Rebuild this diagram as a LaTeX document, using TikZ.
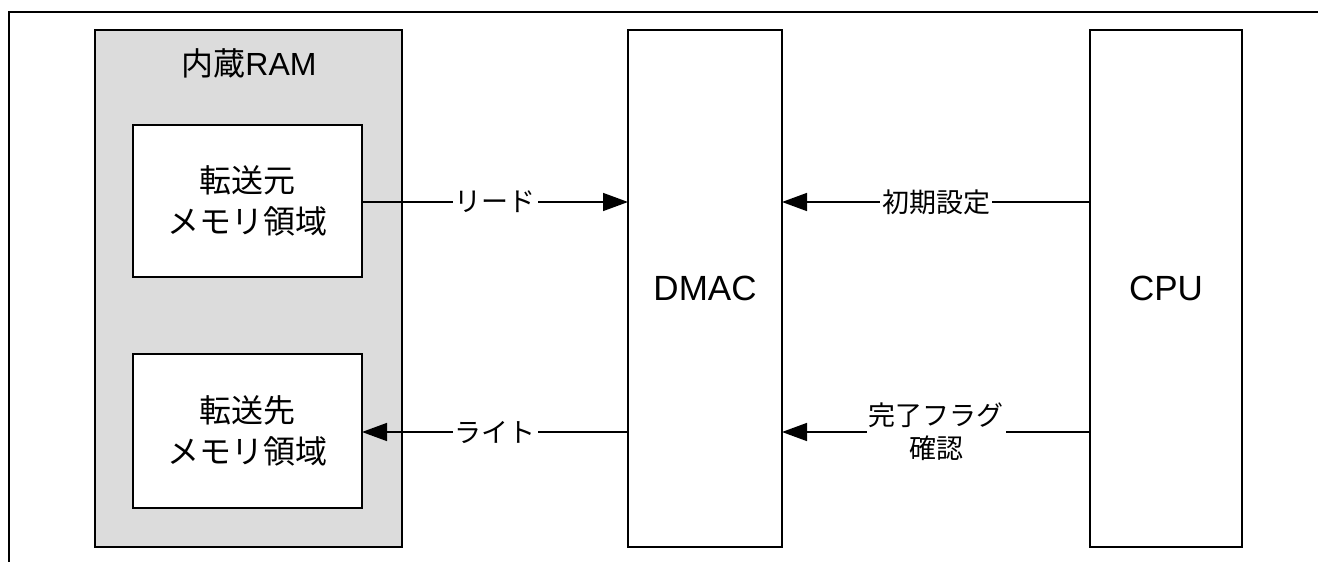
\documentclass[tikz,border=0pt]{standalone}
\usepackage{fontspec}
\setmainfont{Liberation Sans}
\newfontfamily\cjk{Noto Sans CJK JP}
\usetikzlibrary{arrows.meta}
\begin{document}
\begin{tikzpicture}[x=1pt,y=-1pt,
  box/.style={draw=black,line width=1.5pt,inner sep=0pt,fill=white},
  boxtext/.style={font=\fontsize{32}{41}\selectfont,align=center},
  bigtext/.style={font=\fontsize{35}{41}\selectfont,align=center},
  lbl/.style={fill=white,inner sep=2pt,font=\cjk\fontsize{27}{33}\selectfont,align=center},
  conn/.style={line width=1.5pt,-{Triangle[length=25pt,width=18pt]}}]
\useasboundingbox (0,0) rectangle (1318,562);
\fill[white] (0,0) rectangle (1318,562);
\draw[line width=2pt] (1320,11.5) -- (8.5,11.5) -- (8.5,564);
% containers
\node[box,fill={rgb,255:red,220;green,220;blue,220},minimum width=307pt,minimum height=517pt] (ram) at (248.5,288.5) {};
\node[font=\fontsize{32}{36}\selectfont] (ramlbl) at (249,63) {{\cjk 内蔵}RAM};
\node[box,boxtext,minimum width=229pt,minimum height=152pt] (src) at (247.5,201) {\cjk 転送元\\\cjk メモリ領域};
\node[box,boxtext,minimum width=229pt,minimum height=154pt] (dst) at (247.5,431) {\cjk 転送先\\\cjk メモリ領域};
\node[box,bigtext,minimum width=154pt,minimum height=517pt] (dmac) at (705,288.5) {DMAC};
\node[box,bigtext,minimum width=152pt,minimum height=517pt] (cpu) at (1166,288.5) {CPU};
% connectors
\coordinate (r1) at (362,202);
\coordinate (r2) at (628,202);
\coordinate (w1) at (628,432);
\coordinate (w2) at (362,432);
\coordinate (c1) at (1090,202);
\coordinate (c2) at (782,202);
\coordinate (f1) at (1090,432);
\coordinate (f2) at (782,432);
\draw[conn] (r1) -- (r2) node[lbl,midway] (lread) {リード};
\draw[conn] (w1) -- (w2) node[lbl,midway] (lwrite) {ライト};
\draw[conn] (c1) -- (c2) node[lbl,midway] (linit) {初期設定};
\draw[conn] (f1) -- (f2) node[lbl,midway] (lflag) {完了フラグ\\確認};
\end{tikzpicture}
\end{document}
